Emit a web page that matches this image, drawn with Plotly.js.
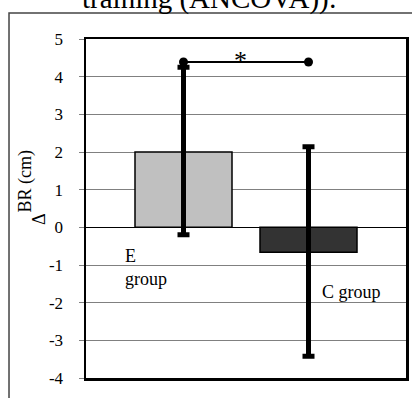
<!DOCTYPE html>
<html>
<head>
<meta charset="utf-8">
<script src="https://cdn.plot.ly/plotly-3.0.1.min.js"></script>
<style>html,body{margin:0;padding:0;background:#fff;}#chart{width:412px;height:398px;}</style>
</head>
<body>
<div id="chart"></div>
<script>
// ---- data ----
const categories = ['E group', 'C group'];
const meanChange = [2.0, -0.66];
const errPlus = [2.25, 2.8];
const errMinus = [2.2, 2.76];
const barColors = ['#c0c0c0', '#333333'];
const sigLevel = [4.39, 4.39];
const sigMark = '*';
const yTicks = [-4, -3, -2, -1, 0, 1, 2, 3, 4, 5];
const titleText = 'training (ANCOVA)):';
const yTitleMain = 'BR (cm)';
const yTitleDelta = 'Δ';
const catLabelLines = ['E', 'group'];

const serif = '"Liberation Serif", "Times New Roman", serif';

const bars = {
  type: 'bar', x: categories, y: meanChange, width: 0.776,
  marker: { color: barColors, line: { color: '#000', width: 1.5 } },
  error_y: { type: 'data', symmetric: false, array: errPlus, arrayminus: errMinus, color: '#000', thickness: 5, width: 6 },
  hoverinfo: 'skip'
};
const sig = {
  type: 'scatter', mode: 'lines+markers', x: categories, y: sigLevel,
  line: { color: '#000', width: 2 }, marker: { color: '#000', size: 9 }, hoverinfo: 'skip'
};

const layout = {
  width: 412, height: 398,
  margin: { l: 86, r: 6, t: 39, b: 20, pad: 0 },
  paper_bgcolor: '#fff', plot_bgcolor: '#fff', showlegend: false,
  font: { family: serif, color: '#000', size: 17 },
  xaxis: { type: 'category', range: [-0.78, 1.78], showticklabels: false, ticks: '', showgrid: false, zeroline: false,
    showline: true, mirror: true, linecolor: '#000', linewidth: 2.5, fixedrange: true },
  yaxis: { range: [-4, 5], tickvals: yTicks, ticktext: yTicks.map(String),
    ticks: 'outside', ticklen: 5, tickcolor: '#808080', tickwidth: 1, ticklabelstandoff: 12,
    tickfont: { family: serif, size: 17, color: '#000' },
    showgrid: true, gridcolor: '#808080', gridwidth: 1,
    zeroline: true, zerolinecolor: '#000', zerolinewidth: 1,
    showline: true, mirror: true, linecolor: '#000', linewidth: 2.5, automargin: false, fixedrange: true },
  shapes: [{ type: 'rect', xref: 'paper', yref: 'paper', x0: -0.2406, x1: 1.05, y0: -0.2, y1: 1.0767,
    line: { color: '#444', width: 1.5 }, fillcolor: 'rgba(0,0,0,0)', layer: 'below' }],
  annotations: [
    { xref: 'paper', yref: 'paper', x: 0.3855, y: 1.118, xanchor: 'center', yanchor: 'middle',
      text: titleText, showarrow: false, font: { family: serif, size: 29, color: '#000' } },
    { xref: 'paper', yref: 'paper', x: -0.1875, y: 0.5796, xanchor: 'center', yanchor: 'middle', textangle: -90,
      text: yTitleMain, showarrow: false, font: { family: serif, size: 18, color: '#000' } },
    { xref: 'paper', yref: 'paper', x: -0.1469, y: 0.469, xanchor: 'center', yanchor: 'middle', textangle: -90,
      text: yTitleDelta, showarrow: false, font: { family: serif, size: 18, color: '#000' } },
    { xref: 'x', yref: 'y', x: 0.5, y: sigLevel[0], xanchor: 'center', yanchor: 'middle', yshift: 1, xshift: -6,
      text: sigMark, showarrow: false, font: { family: serif, size: 26, color: '#000' } },
    { xref: 'x', yref: 'y', x: -0.484, y: -0.76, xanchor: 'left', yanchor: 'middle',
      text: catLabelLines[0], showarrow: false, font: { family: serif, size: 18, color: '#000' } },
    { xref: 'x', yref: 'y', x: -0.484, y: -1.37, xanchor: 'left', yanchor: 'middle',
      text: catLabelLines[1], showarrow: false, font: { family: serif, size: 18, color: '#000' } },
    { xref: 'x', yref: 'y', x: 1.092, y: -1.72, xanchor: 'left', yanchor: 'middle',
      text: categories[1], showarrow: false, font: { family: serif, size: 18, color: '#000' } }
  ]
};

Plotly.newPlot('chart', [bars, sig], layout, { staticPlot: true, displayModeBar: false });
</script>
</body>
</html>
